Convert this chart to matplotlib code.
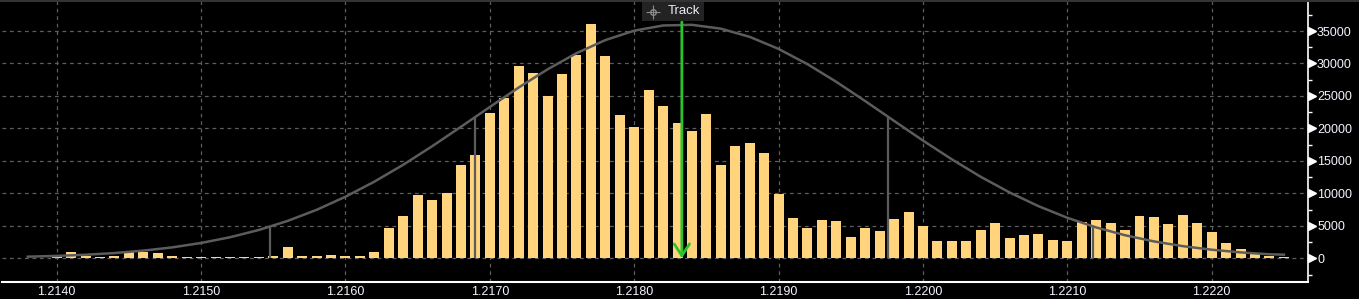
import numpy as np
import matplotlib
matplotlib.use("Agg")
import matplotlib.pyplot as plt
from matplotlib.ticker import MultipleLocator, FuncFormatter
from matplotlib.lines import Line2D
from matplotlib.patches import Rectangle
import matplotlib.transforms as mtransforms

# volume at price, one bin per 0.0001 starting at 1.2138
price_start = 1.2138
bin_size = 0.0001
volumes = [100, 100, 350, 1020, 350, 200, 350, 1020, 1020, 810,
           350, 200, 200, 200, 200, 200, 200, 350, 1740, 350,
           350, 510, 350, 350, 1020, 4670, 6500, 9800, 9000, 10100,
           14400, 15900, 22400, 24650, 29600, 28600, 25000, 28400, 31300, 36100,
           31150, 22070, 20200, 25900, 23450, 20800, 19600, 22200, 14370, 17300,
           17750, 16200, 9950, 6200, 4670, 5900, 5740, 3280, 4670, 4200,
           6050, 7130, 5020, 2660, 2660, 2660, 4360, 5440, 3130, 3590,
           3740, 2820, 2660, 5640, 5900, 5440, 4360, 6520, 6360, 5280,
           6670, 5440, 4050, 2360, 1440, 660, 350, 200]

# fitted distribution curve
curve_x = [1.2138, 1.2140, 1.2142, 1.2144, 1.2146, 1.2148, 1.2150, 1.2152, 1.2154, 1.2156,
           1.2158, 1.2160, 1.2162, 1.2164, 1.2166, 1.2168, 1.2170, 1.2172, 1.2174, 1.2176,
           1.2178, 1.2180, 1.2182, 1.2184, 1.2186, 1.2188, 1.2190, 1.2192, 1.2194, 1.2196,
           1.2198, 1.2200, 1.2202, 1.2204, 1.2206, 1.2208, 1.2210, 1.2212, 1.2214, 1.2216,
           1.2218, 1.2220, 1.2222, 1.2224, 1.2225]
curve_y = [250, 370, 545, 810, 1180, 1680, 2360, 3240, 4360, 5760,
           7460, 9480, 11800, 14400, 17250, 20250, 23300, 26300, 29100, 31580,
           33600, 35050, 35850, 35950, 35360, 34100, 32240, 29890, 27170, 24210,
           21160, 18130, 15240, 12550, 10140, 8030, 6240, 4750, 3550, 2600,
           1870, 1320, 910, 620, 560]

# sigma markers
sigma_prices = [1.21548, 1.21690, 1.21976, 1.22118]
sigma_heights = [4870, 21800, 21800, 4870]

track_price = 1.21833
track_top = 36400

xticks = [1.2140, 1.2150, 1.2160, 1.2170, 1.2180, 1.2190, 1.2200, 1.2210, 1.2220]
yticks = [0, 5000, 10000, 15000, 20000, 25000, 30000, 35000]

W, H = 1359, 299
fig = plt.figure(figsize=(W / 100, H / 100), dpi=100, facecolor="black")
ax = fig.add_axes([2 / W, 17 / H, 1306 / W, 281 / H], facecolor="black")

prices = price_start + bin_size * np.arange(len(volumes))
ax.bar(prices, volumes, width=bin_size * 0.69, color="#FFD47C", zorder=2)
ax.plot(curve_x, curve_y, color="#5c5c5c", lw=1.8, zorder=3)
ax.vlines(sigma_prices, 0, sigma_heights, color="#5c5c5c", lw=1.6, zorder=3)

green = "#2cc22c"
ax.annotate("", xy=(track_price, 0), xytext=(track_price, track_top),
            arrowprops=dict(arrowstyle="->,head_length=0.85,head_width=0.55",
                            color=green, lw=2, shrinkA=0, shrinkB=0), zorder=4)

ax.set_xlim(1.213621, 1.222667)
ax.set_ylim(-3650, 39620)

ax.set_axisbelow(True)
ax.grid(True, color="#5e5e5e", linestyle=(0, (3, 3)), linewidth=0.9)

for s in ["left", "top"]:
    ax.spines[s].set_visible(False)
ax.spines["right"].set_color("white")
ax.spines["right"].set_linewidth(1.2)
ax.spines["bottom"].set_color("white")
ax.spines["bottom"].set_linewidth(1.5)

font = "Liberation Sans"
ax.set_xticks(xticks)
ax.xaxis.set_major_formatter(FuncFormatter(lambda v, p: "%.4f" % v))
ax.tick_params(axis="x", length=0, pad=3, labelcolor="#f2f4ff", labelsize=9)

ax.yaxis.tick_right()
ax.set_yticks(yticks)
ax.yaxis.set_minor_locator(MultipleLocator(2500))
ax.tick_params(axis="y", which="major", length=0, pad=6.5, labelcolor="#f2f4ff", labelsize=9)
ax.tick_params(axis="y", which="minor", length=3, width=1, color="white", direction="out")
for lab in ax.get_xticklabels() + ax.get_yticklabels():
    lab.set_fontfamily(font)

# arrow-shaped major tick marks on the right axis
trans = mtransforms.blended_transform_factory(ax.transAxes, ax.transData)
trans = trans + mtransforms.ScaledTranslation(4 / 100, 0, fig.dpi_scale_trans)
ax.plot([1] * len(yticks), yticks, linestyle="none", marker=">", markersize=5.5,
        color="white", transform=trans, clip_on=False)

# top border
fig.add_artist(Line2D([0, 1], [1 - 0.8 / H] * 2, color="#333333", lw=1.5))

# Track label box
fig.add_artist(Rectangle((642 / W, 1 - 20.7 / H), 62 / W, 19 / H,
                         facecolor="#232323", edgecolor="none"))
fig.add_artist(Line2D([653 / W], [1 - 11.5 / H], marker="o", markersize=4,
                      markerfacecolor="none", markeredgecolor="#8a8a8a", linestyle="none"))
fig.add_artist(Line2D([653 / W], [1 - 11.5 / H], marker="+", markersize=10,
                      markeredgewidth=0.8, color="#8a8a8a", linestyle="none"))
fig.text(668 / W, 1 - 11.5 / H, "Track", color="#e8ecf5", fontsize=9.5,
         fontfamily=font, va="center", ha="left")

fig.savefig("out.png", dpi=100, facecolor="black")
